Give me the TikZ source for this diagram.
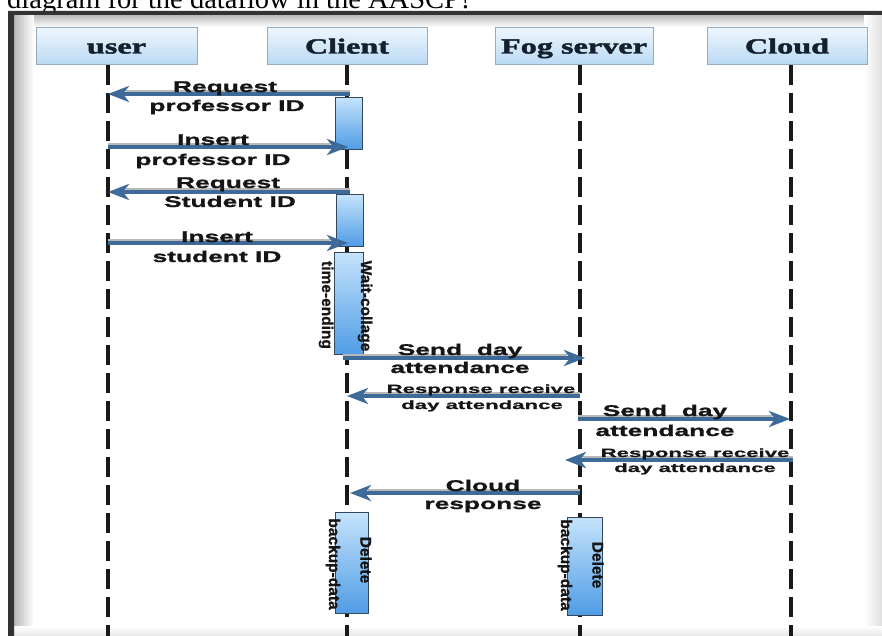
\documentclass[tikz,border=0pt]{standalone}
\usepackage{fontspec}
\usetikzlibrary{arrows.meta}

% fonts: wide bold serif for the lifeline heads, wide bold sans for messages
\newfontfamily\hdrfont[FakeStretch=1.5,FakeBold=2]{Liberation Serif Bold}
\newfontfamily\msgfont[FakeStretch=1.7,FakeBold=1.3]{Liberation Sans Bold}
\newfontfamily\smallmsgfont[FakeStretch=1.85,FakeBold=1]{Liberation Sans Bold}
\newfontfamily\actfont[FakeBold=1]{Liberation Sans Bold}
\newfontfamily\capfont{Liberation Serif}

\definecolor{hdrtop}{HTML}{EEF6FD}
\definecolor{hdrbot}{HTML}{B9D9F4}
\definecolor{hdredge}{HTML}{9AABBD}
\definecolor{acttop}{HTML}{C5E3FB}
\definecolor{actbot}{HTML}{4F9CE6}
\definecolor{actedge}{HTML}{35475A}
\definecolor{msgblue}{HTML}{3D6A98}
\definecolor{msggray}{HTML}{B8B8B8}
\definecolor{headfill}{HTML}{4D84C0}
\definecolor{textdark}{HTML}{151515}
\definecolor{hdrtext}{HTML}{14202E}
\definecolor{framedark}{HTML}{333333}

\tikzset{
  hdr/.style={draw=hdredge, line width=1pt, top color=hdrtop, bottom color=hdrbot,
    minimum height=37pt, inner sep=0pt, text=hdrtext, text height=14pt, text depth=0pt,
    font=\hdrfont\fontsize{21.5pt}{24pt}\selectfont},
  lifeline/.style={line width=4pt, dash pattern=on 20pt off 8pt, black!90},
  act/.style={draw=actedge, line width=1pt, top color=acttop, bottom color=actbot,
    inner sep=0pt, anchor=north west},
  msg/.style={draw=msgblue, line width=3.2pt,
    -{Stealth[length=21pt,width=16pt,inset=6pt,fill=headfill,color=msgblue]},
    preaction={draw=msggray, line width=2.6pt, -, shorten >=18pt,
      transform canvas={yshift=2.6pt}}},
  lbl/.style={anchor=base, inner sep=0pt, text=textdark,
    font=\msgfont\fontsize{15.5pt}{18pt}\selectfont},
  slbl/.style={anchor=base, inner sep=0pt, text=textdark,
    font=\smallmsgfont\fontsize{12pt}{14pt}\selectfont},
  vlbl/.style={rotate=-90, inner sep=0pt, text=textdark,
    font=\actfont\fontsize{15.5pt}{18pt}\selectfont},
}

\begin{document}
\begin{tikzpicture}[x=1pt,y=-1pt]
\useasboundingbox (0,0) rectangle (882,636);
\clip (0,0) rectangle (882,636);
\fill[white] (0,0) rectangle (882,636);

% caption line above the window
\node[anchor=base west, inner sep=0pt, font=\capfont\fontsize{28.5pt}{30pt}\selectfont]
  (cap) at (7,9) {diagram for the dataflow in the AASCP?};

% window frame with its inner shadows
\shade[top color=gray!55, bottom color=white] (14,15) rectangle (882,27);
\shade[left color=gray!55, right color=white] (14,15) rectangle (34,636);
\shade[left color=white, right color=gray!25] (864,15) rectangle (882,636);
\shade[top color=white, bottom color=gray!20] (14,626) rectangle (882,636);
\fill[framedark] (8,636) -- (8,11) -- (882,11) -- (882,15) -- (14,15) -- (14,636) -- cycle;

% lifeline heads
\node[hdr, minimum width=161pt] (user)  at (116.5,46.5) {user};
\node[hdr, minimum width=160pt] (client) at (347,46.5) {Client};
\node[hdr, minimum width=158pt] (fog)   at (574,46.5) {Fog server};
\node[hdr, minimum width=160pt] (cloud) at (787,46.5) {Cloud};

% lifelines
\coordinate (uTop) at (108,65);  \coordinate (uBot) at (108,640);
\coordinate (cTop) at (347,65);  \coordinate (cBot) at (347,640);
\coordinate (fTop) at (580,65);  \coordinate (fBot) at (580,640);
\coordinate (kTop) at (791,65);  \coordinate (kBot) at (791,640);
\draw[lifeline] (uTop) -- (uBot);
\draw[lifeline] (cTop) -- (cBot);
\draw[lifeline] (fTop) -- (fBot);
\draw[lifeline] (kTop) -- (kBot);

% activation bars
\node[act, minimum width=27pt, minimum height=52pt] (act1) at (335,97) {};
\node[act, minimum width=27pt, minimum height=52pt] (act2) at (336,194) {};
\node[act, minimum width=29pt, minimum height=102pt] (wait) at (334,252) {};
\node[act, minimum width=33pt, minimum height=101pt] (delC) at (335,512) {};
\node[act, minimum width=35pt, minimum height=98pt] (delF) at (567,517) {};

\node[vlbl] (waitA) at (365,306) {Wait-collage};
\node[vlbl] (waitB) at (326,305) {time-ending};
\node[vlbl] (delCa) at (366,560) {Delete};
\node[vlbl] (delCb) at (333,564) {backup-data};
\node[vlbl] (delFa) at (598,565) {Delete};
\node[vlbl] (delFb) at (565,565) {backup-data};

% message end points
\coordinate (m1s) at (350,94);  \coordinate (m1e) at (108,94);
\coordinate (m2s) at (108,147); \coordinate (m2e) at (348,147);
\coordinate (m3s) at (350,192); \coordinate (m3e) at (108,192);
\coordinate (m4s) at (108,243); \coordinate (m4e) at (348,243);
\coordinate (m5s) at (343,358); \coordinate (m5e) at (585,358);
\coordinate (m6s) at (580,396); \coordinate (m6e) at (347,396);
\coordinate (m7s) at (578,419); \coordinate (m7e) at (790,419);
\coordinate (m8s) at (793,460); \coordinate (m8e) at (565,460);
\coordinate (m9s) at (580,493); \coordinate (m9e) at (350,493);

\draw[msg] (m1s) -- (m1e);
\draw[msg] (m2s) -- (m2e);
\draw[msg] (m3s) -- (m3e);
\draw[msg] (m4s) -- (m4e);
\draw[msg] (m5s) -- (m5e);
\draw[msg] (m6s) -- (m6e);
\draw[msg] (m7s) -- (m7e);
\draw[msg] (m8s) -- (m8e);
\draw[msg] (m9s) -- (m9e);

% message labels
\node[lbl] (l1a) at (225,92)  {Request};
\node[lbl] (l1b) at (227,111) {professor ID};
\node[lbl] (l2a) at (213,145) {Insert};
\node[lbl] (l2b) at (213,165) {professor ID};
\node[lbl] (l3a) at (228,188) {Request};
\node[lbl] (l3b) at (230,207) {Student ID};
\node[lbl] (l4a) at (217,242) {Insert};
\node[lbl] (l4b) at (217,262) {student ID};
\node[lbl] (l5a) at (460,355) {Send\ \ day};
\node[lbl] (l5b) at (460,373) {attendance};
\node[slbl] (l6a) at (481,393) {Response receive};
\node[slbl] (l6b) at (482,409) {day attendance};
\node[lbl] (l7a) at (665,416) {Send\ \ day};
\node[lbl] (l7b) at (665,436) {attendance};
\node[slbl] (l8a) at (695,457) {Response receive};
\node[slbl] (l8b) at (695,472) {day attendance};
\node[lbl] (l9a) at (483,491) {Cloud};
\node[lbl] (l9b) at (483,509) {response};
\end{tikzpicture}
\end{document}
